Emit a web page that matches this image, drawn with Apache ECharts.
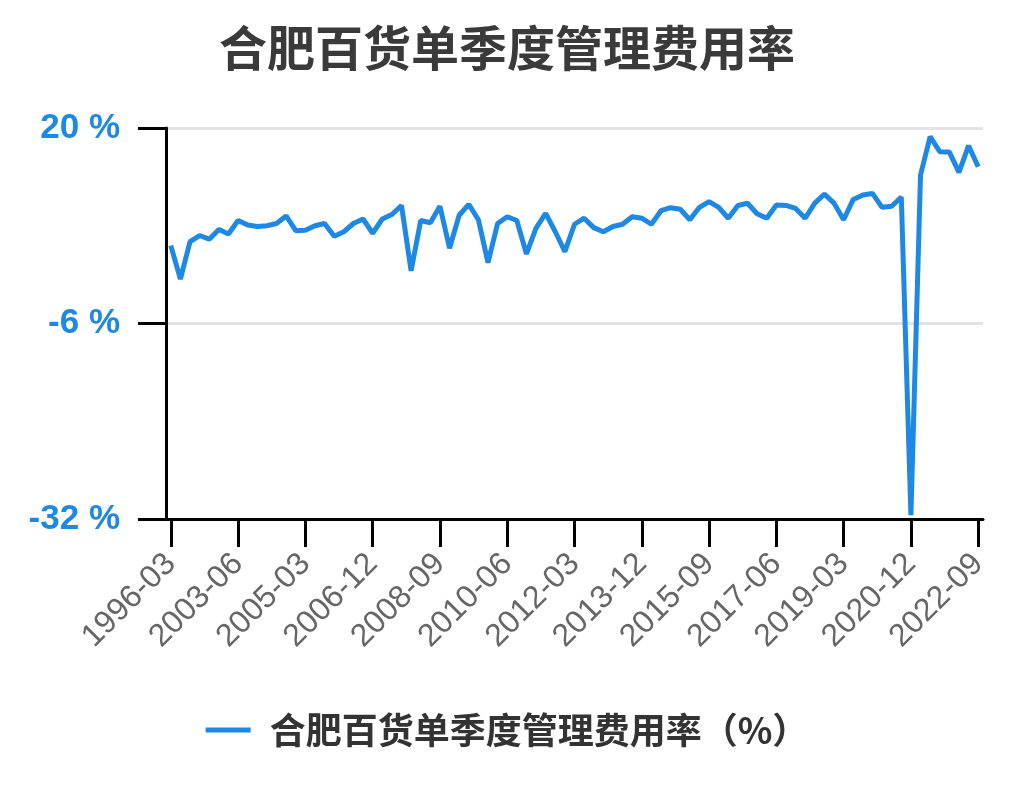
<!DOCTYPE html>
<html>
<head>
<meta charset="utf-8">
<script src="https://cdn.jsdelivr.net/npm/echarts@6/dist/echarts.min.js"></script>
<style>
html,body{margin:0;padding:0;background:#fff;}
#chart{width:1014px;height:810px;}
</style>
</head>
<body>
<div id="chart"></div>
<script>
const titleText = '合肥百货单季度管理费用率';
const seriesName = '合肥百货单季度管理费用率（%）';
const categories = [
  '1996-03','1997-12','1998-12','1999-12','2000-12','2001-12','2002-12',
  '2003-06','2003-09','2003-12','2004-03','2004-06','2004-09','2004-12',
  '2005-03','2005-06','2005-09','2005-12','2006-03','2006-06','2006-09','2006-12',
  '2007-03','2007-06','2007-09','2007-12','2008-03','2008-06','2008-09','2008-12',
  '2009-03','2009-06','2009-09','2009-12','2010-03','2010-06','2010-09','2010-12',
  '2011-03','2011-06','2011-09','2011-12','2012-03','2012-06','2012-09','2012-12',
  '2013-03','2013-06','2013-09','2013-12','2014-03','2014-06','2014-09','2014-12',
  '2015-03','2015-06','2015-09','2015-12','2016-03','2016-06','2016-09','2016-12',
  '2017-03','2017-06','2017-09','2017-12','2018-03','2018-06','2018-09','2018-12',
  '2019-03','2019-06','2019-09','2019-12','2020-03','2020-06','2020-09','2020-12',
  '2021-03','2021-06','2021-09','2021-12','2022-03','2022-06','2022-09'
];
const values = [
  4.35, -0.1, 4.9, 5.7, 5.2, 6.5, 5.9,
  7.7, 7.1, 6.9, 7.0, 7.3, 8.3, 6.35,
  6.4, 7.0, 7.3, 5.6, 6.2, 7.3, 7.9, 6.0,
  7.9, 8.5, 9.7, 1.0, 7.7, 7.4, 9.6, 4.0,
  8.4, 9.85, 7.8, 2.1, 7.3, 8.2, 7.7, 3.25,
  6.7, 8.65, 6.2, 3.55, 7.2, 8.0, 6.75, 6.2,
  6.9, 7.2, 8.2, 8.0, 7.2, 9.0, 9.4, 9.2,
  7.8, 9.45, 10.2, 9.45, 8.0, 9.7, 10.0, 8.6,
  8.0, 9.75, 9.7, 9.3, 8.0, 10.0, 11.2, 10.0,
  7.8, 10.5, 11.1, 11.3, 9.45, 9.6, 10.8, -31.5,
  13.75, 18.85, 16.85, 16.8, 14.1, 17.65, 14.85
];
const yMin = -32, yMax = 20, yInterval = 26;

const chart = echarts.init(document.getElementById('chart'), null, {renderer:'canvas'});
const cjk = '"Noto Sans CJK SC", "Liberation Sans", sans-serif';
const latin = '"Liberation Sans", Arial, sans-serif';
chart.setOption({
  backgroundColor: '#ffffff',
  animation: false,
  title: {
    text: titleText,
    left: 'center',
    top: 19,
    textStyle: {fontFamily: cjk, fontSize: 48, fontWeight: 'bold', color: '#3a3a3a'}
  },
  legend: {
    data: [seriesName],
    bottom: 57,
    left: 'center',
    icon: 'rect',
    itemWidth: 45,
    itemHeight: 5,
    textStyle: {fontFamily: cjk, fontSize: 36, fontWeight: 'bold', color: '#333', padding: [0,0,0,14]}
  },
  grid: {left: 166, right: 31, top: 128, bottom: 291, containLabel: false},
  xAxis: {
    type: 'category',
    data: categories,
    boundaryGap: true,
    axisLine: {show: true, onZero: false, lineStyle: {color: '#000', width: 3}},
    axisTick: {show: true, alignWithLabel: true, interval: 6, length: 28, lineStyle: {color: '#000', width: 3}},
    axisLabel: {interval: 6, rotate: 45, margin: 40, padding: [16,0,0,0], fontFamily: latin, fontSize: 32, color: '#666'},
    splitLine: {show: false}
  },
  yAxis: {
    type: 'value',
    min: yMin, max: yMax, interval: yInterval,
    axisLine: {show: true, lineStyle: {color: '#000', width: 3}},
    axisTick: {show: true, length: 28, lineStyle: {color: '#000', width: 3}},
    axisLabel: {formatter: '{value} %', margin: 46, fontFamily: latin, fontSize: 35, fontWeight: 'bold', color: '#1e88e5'},
    splitLine: {show: true, lineStyle: {color: '#e3e3e3', width: 3}}
  },
  series: [{
    name: seriesName,
    type: 'line',
    data: values,
    showSymbol: false,
    symbol: 'none',
    lineStyle: {color: '#1e88e5', width: 5},
    itemStyle: {color: '#1e88e5'}
  }]
});
</script>
</body>
</html>
